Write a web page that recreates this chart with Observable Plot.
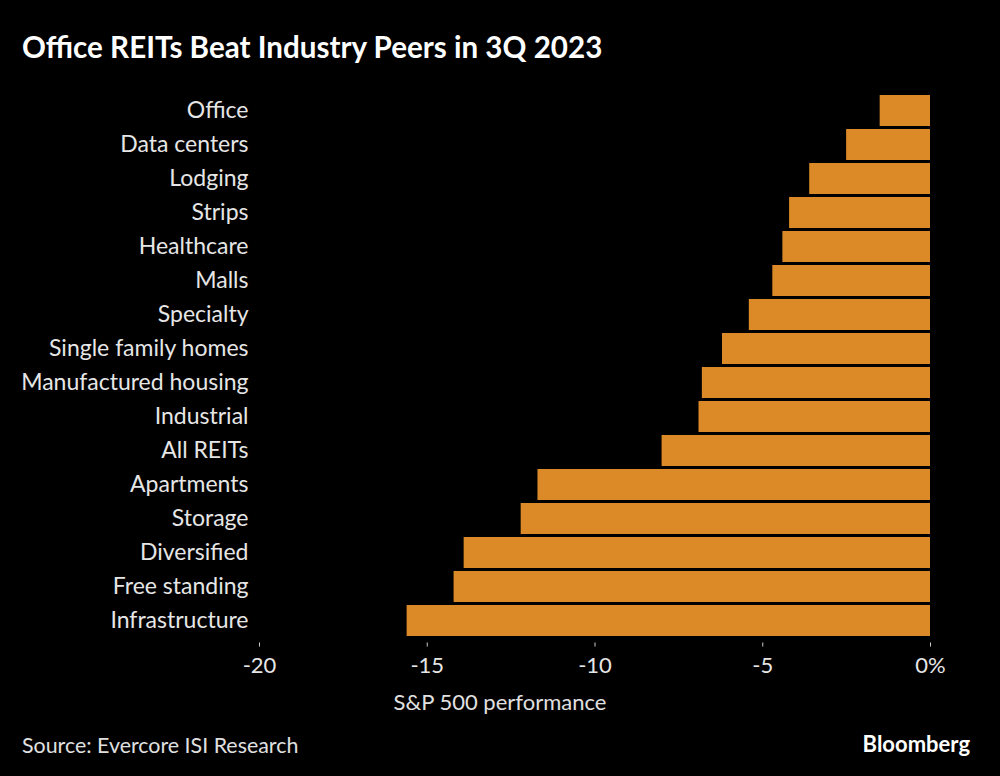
<!DOCTYPE html>
<html>
<head>
<meta charset="utf-8">
<script src="https://cdn.jsdelivr.net/npm/d3@7"></script>
<script src="https://cdn.jsdelivr.net/npm/@observablehq/plot@0.6"></script>
<style>
  html, body { margin: 0; padding: 0; background: #000; width: 1000px; height: 776px; overflow: hidden; }
  body { position: relative; font-family: Lato, "Noto Sans", sans-serif; color: #e6e6e6; }
  #title { position: absolute; left: 22px; top: 29px; font-size: 29.6px; font-weight: 700; color: #fff; white-space: nowrap; }
  #chart { position: absolute; left: 0; top: 80px; }
  #xlabel { position: absolute; left: 0; width: 1000px; top: 688px; text-align: center; font-size: 22px; color: #e0e0e0; }
  #source { position: absolute; left: 22px; top: 732px; font-size: 21.4px; color: #e0e0e0; }
  #brand { position: absolute; right: 30px; top: 730px; font-size: 22px; font-weight: 700; color: #fff; }
</style>
</head>
<body>
<div id="title">Office REITs Beat Industry Peers in 3Q 2023</div>
<div id="chart"></div>
<div id="xlabel">S&amp;P 500 performance</div>
<div id="source">Source: Evercore ISI Research</div>
<div id="brand">Bloomberg</div>
<script>
const categories = ["Office", "Data centers", "Lodging", "Strips", "Healthcare", "Malls", "Specialty", "Single family homes", "Manufactured housing", "Industrial", "All REITs", "Apartments", "Storage", "Diversified", "Free standing", "Infrastructure"];
const values = [-1.5, -2.5, -3.6, -4.2, -4.4, -4.7, -5.4, -6.2, -6.8, -6.9, -8.0, -11.7, -12.2, -13.9, -14.2, -15.6];
const xTicks = [-20, -15, -10, -5, 0];

const data = categories.map((c, i) => ({category: c, value: values[i]}));
const fmt = d => d === 0 ? "0%" : String(d);

const chart = Plot.plot({
  width: 1000,
  height: 603,
  marginTop: 9,
  marginBottom: 40.5,
  marginLeft: 259,
  marginRight: 70,
  style: { background: "#000", color: "#e6e6e6", fontFamily: "Lato, 'Noto Sans', sans-serif", fontSize: "23px" },
  x: { domain: [-20, 0], ticks: xTicks, tickFormat: fmt, label: null },
  y: { domain: categories, padding: 0.1, label: null },
  marks: [
    Plot.barX(data, { x1: 0, x2: "value", y: "category", fill: "#db8a27" }),
    Plot.axisX({ ticks: xTicks, tickFormat: fmt, tickSize: 4, tickPadding: 10, stroke: "#ccc", label: null, fontSize: 22 }),
    Plot.axisY({ tickSize: 0, tickPadding: 11, label: null, fontSize: 23 })
  ]
});
document.getElementById("chart").appendChild(chart);
</script>
</body>
</html>
